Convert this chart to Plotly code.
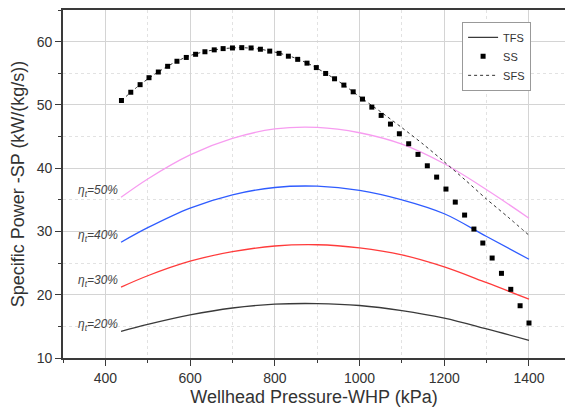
import plotly.graph_objects as go

# Wellhead pressure grid for the turbine-efficiency (TFS) curves, kPa
whp_tfs = [437, 500, 600, 700, 800, 900, 1000, 1100, 1200, 1300, 1400]
sp_eta50 = [35.4, 38.3, 42.1, 44.7, 46.2, 46.45, 45.6, 43.8, 40.7, 36.6, 32.1]
sp_eta40 = [28.3, 30.6, 33.7, 35.8, 36.95, 37.15, 36.5, 35.0, 32.8, 29.2, 25.6]
sp_eta30 = [21.2, 23.0, 25.3, 26.8, 27.7, 27.9, 27.4, 26.3, 24.4, 21.9, 19.3]
sp_eta20 = [14.2, 15.3, 16.8, 17.9, 18.5, 18.6, 18.3, 17.5, 16.3, 14.6, 12.8]
eta_labels = ["η<sub>t</sub>=50%", "η<sub>t</sub>=40%", "η<sub>t</sub>=30%", "η<sub>t</sub>=20%"]
eta_colors = ["#f79cf0", "#2f5cff", "#ff3b3b", "#3a3a3a"]

# Single-flash system (SS), kPa / kW/(kg/s)
whp_ss = [438, 460, 482, 503, 525, 547, 569, 591, 613, 635, 657, 678, 700, 722, 744,
          766, 788, 810, 832, 854, 876, 898, 920, 941, 963, 985, 1007, 1029, 1051, 1073,
          1094, 1116, 1138, 1160, 1182, 1204, 1226, 1248, 1270, 1291, 1313, 1335, 1357,
          1379, 1400]
sp_ss = [50.7, 52.0, 53.2, 54.3, 55.2, 56.1, 56.9, 57.5, 58.0, 58.4, 58.7, 58.9, 59.0,
         59.05, 59.0, 58.8, 58.5, 58.15, 57.7, 57.2, 56.6, 55.9, 54.97, 54.13, 53.13,
         52.07, 50.92, 49.65, 48.34, 46.97, 45.44, 43.86, 42.18, 40.38, 38.59, 36.70,
         34.64, 32.59, 30.38, 28.17, 25.80, 23.38, 20.85, 18.26, 15.53]

# SFS
whp_sfs = [438, 480, 520, 560, 600, 640, 680, 720, 760, 800, 840, 880, 920, 960, 1000,
           1050, 1100, 1150, 1200, 1250, 1300, 1350, 1400]
sp_sfs = [50.7, 53.1, 55.0, 56.6, 57.8, 58.5, 58.9, 59.05, 58.85, 58.35, 57.6, 56.5,
          55.0, 53.3, 51.3, 48.9, 46.4, 43.8, 41.0, 38.1, 35.1, 32.3, 29.4]

x_ticks = [400, 600, 800, 1000, 1200, 1400]
y_ticks = [10, 20, 30, 40, 50, 60]

FONT = "Arial, 'Liberation Sans', sans-serif"
AXIS_COLOR = "#3a3a3a"

fig = go.Figure()

eta_series = [sp_eta50, sp_eta40, sp_eta30, sp_eta20]
for i, (ys, col) in enumerate(zip(eta_series, eta_colors)):
    is_legend = i == 3
    fig.add_trace(go.Scatter(
        x=whp_tfs, y=ys, mode="lines",
        line=dict(color=col, width=1.3, shape="spline", smoothing=1.0),
        name="TFS", showlegend=is_legend, legendrank=1,
        hoverinfo="skip",
    ))

fig.add_trace(go.Scatter(
    x=whp_sfs, y=sp_sfs, mode="lines",
    line=dict(color="#333333", width=1, dash="3px,3px", shape="spline", smoothing=0.8),
    name="SFS", legendrank=3,
))

fig.add_trace(go.Scatter(
    x=whp_ss, y=sp_ss, mode="markers",
    marker=dict(symbol="square", size=5, color="#000000"),
    name="SS", legendrank=2,
))

# efficiency labels placed just left of each curve's first point
for text, ys in zip(eta_labels, eta_series):
    fig.add_annotation(
        x=whp_tfs[0], y=ys[0], xref="x", yref="y",
        text=f"<i>{text}</i>", showarrow=False,
        xanchor="right", yanchor="middle", xshift=-1, yshift=6,
        font=dict(family=FONT, size=12, color="#444444"),
    )

fig.update_xaxes(
    range=[300, 1485], tickvals=x_ticks, ticks="outside", ticklen=6, tickwidth=1.3,
    tickcolor=AXIS_COLOR, showline=True, linecolor=AXIS_COLOR, linewidth=1.6,
    mirror=True, showgrid=True, gridcolor="#d4d4d4", gridwidth=1, zeroline=False,
    minor=dict(dtick=100, tick0=300, ticks="outside", ticklen=3, tickcolor=AXIS_COLOR,
               showgrid=True, gridcolor="#e2e2e2", griddash="dot", gridwidth=1),
    tickfont=dict(family=FONT, size=14, color="#333333"),
    title=dict(text="Wellhead Pressure-WHP (kPa)", standoff=6,
               font=dict(family=FONT, size=18, color="#333333")),
)
fig.update_yaxes(
    range=[10, 65], tickvals=y_ticks, ticks="outside", ticklen=6, tickwidth=1.3,
    tickcolor=AXIS_COLOR, showline=True, linecolor=AXIS_COLOR, linewidth=1.6,
    mirror=False, showgrid=True, gridcolor="#d4d4d4", gridwidth=1, zeroline=False,
    minor=dict(dtick=5, tick0=10, ticks="outside", ticklen=3, tickcolor=AXIS_COLOR,
               showgrid=True, gridcolor="#e2e2e2", griddash="dot", gridwidth=1),
    tickfont=dict(family=FONT, size=14, color="#333333"),
    title=dict(text="Specific Power -SP (kW/(kg/s))", standoff=8,
               font=dict(family=FONT, size=18, color="#333333")),
)

fig.update_layout(
    width=565, height=408,
    margin=dict(l=63, r=0, t=10, b=50),
    paper_bgcolor="white", plot_bgcolor="white",
    legend=dict(x=0.795, y=0.966, xanchor="left", yanchor="top",
                bgcolor="white", bordercolor="#999999", borderwidth=1,
                font=dict(family=FONT, size=11, color="#333333"),
                tracegroupgap=0, itemwidth=30),
    showlegend=True,
)

fig.write_html("out.html")
